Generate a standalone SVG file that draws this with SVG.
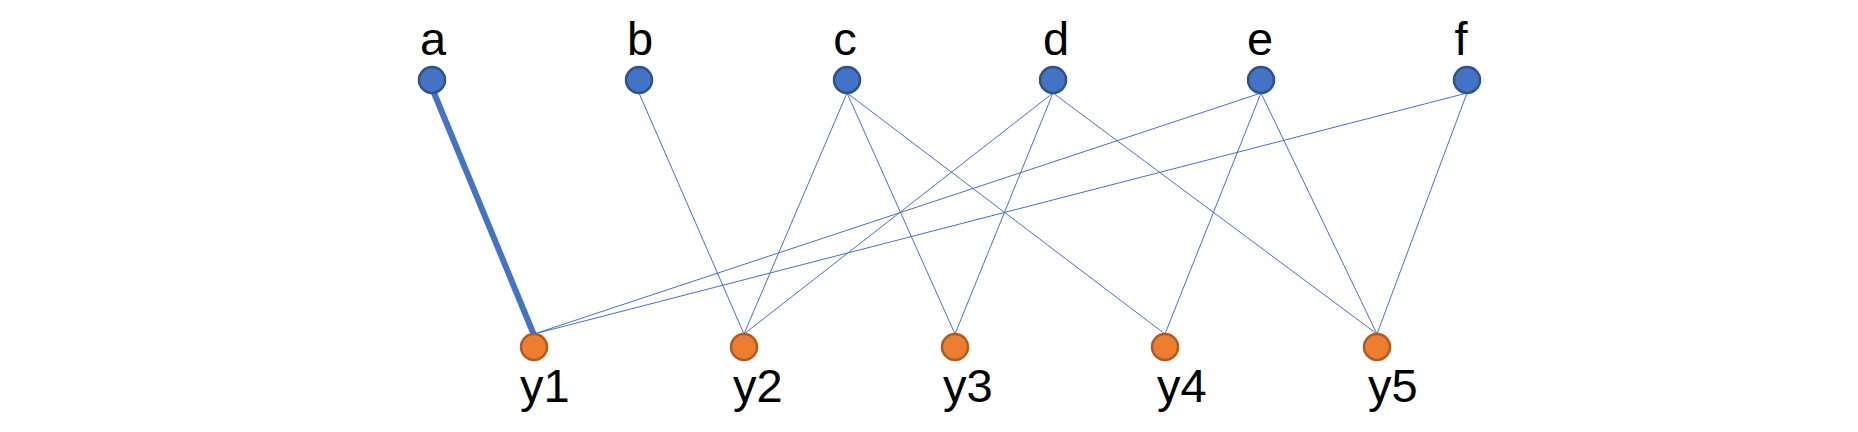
<svg xmlns="http://www.w3.org/2000/svg" width="1858" height="432" viewBox="0 0 1858 432">
<style>
.top{fill:#4472C4;stroke:#2F528F;stroke-width:2.5}
.bot{fill:#ED7D31;stroke:#AE5A21;stroke-width:2.5}
.e{stroke:#4472C4;stroke-width:1;fill:none}
.thick{stroke:#4472C4;stroke-width:6;fill:none}
text{font-family:"Liberation Sans",Arial,sans-serif;font-size:47px;fill:#000}
.tl{text-anchor:middle}
</style>
<rect width="1858" height="432" fill="#fff"/>
<g id="connectors">
<line class="thick" x1="432" y1="88" x2="534" y2="335"/>
<line class="e" x1="639" y1="93" x2="744" y2="334"/>
<line class="e" x1="847" y1="93" x2="744" y2="334"/>
<line class="e" x1="847" y1="93" x2="955" y2="334"/>
<line class="e" x1="847" y1="93" x2="1165" y2="334"/>
<line class="e" x1="1053" y1="93" x2="744" y2="334"/>
<line class="e" x1="1053" y1="93" x2="955" y2="334"/>
<line class="e" x1="1053" y1="93" x2="1377" y2="334"/>
<line class="e" x1="1261" y1="93" x2="534" y2="334"/>
<line class="e" x1="1261" y1="93" x2="1165" y2="334"/>
<line class="e" x1="1261" y1="93" x2="1377" y2="334"/>
<line class="e" x1="1467" y1="93" x2="534" y2="334"/>
<line class="e" x1="1467" y1="93" x2="1377" y2="334"/>
</g>
<g id="a"><circle class="top" cx="432" cy="80" r="13"/><text class="tl" x="433" y="55">a</text></g>
<g id="b"><circle class="top" cx="639" cy="80" r="13"/><text class="tl" x="640" y="55">b</text></g>
<g id="c"><circle class="top" cx="847" cy="80" r="13"/><text class="tl" x="845" y="55">c</text></g>
<g id="d"><circle class="top" cx="1053" cy="80" r="13"/><text class="tl" x="1056" y="55">d</text></g>
<g id="e"><circle class="top" cx="1261" cy="80" r="13"/><text class="tl" x="1260" y="55">e</text></g>
<g id="f"><circle class="top" cx="1467" cy="80" r="13"/><text class="tl" x="1461" y="55">f</text></g>
<g id="y1"><circle class="bot" cx="534" cy="347" r="13"/><text x="520" y="402">y1</text></g>
<g id="y2"><circle class="bot" cx="744" cy="347" r="13"/><text x="733" y="402">y2</text></g>
<g id="y3"><circle class="bot" cx="955" cy="347" r="13"/><text x="943" y="402">y3</text></g>
<g id="y4"><circle class="bot" cx="1165" cy="347" r="13"/><text x="1157" y="402">y4</text></g>
<g id="y5"><circle class="bot" cx="1377" cy="347" r="13"/><text x="1368" y="402">y5</text></g>
</svg>
